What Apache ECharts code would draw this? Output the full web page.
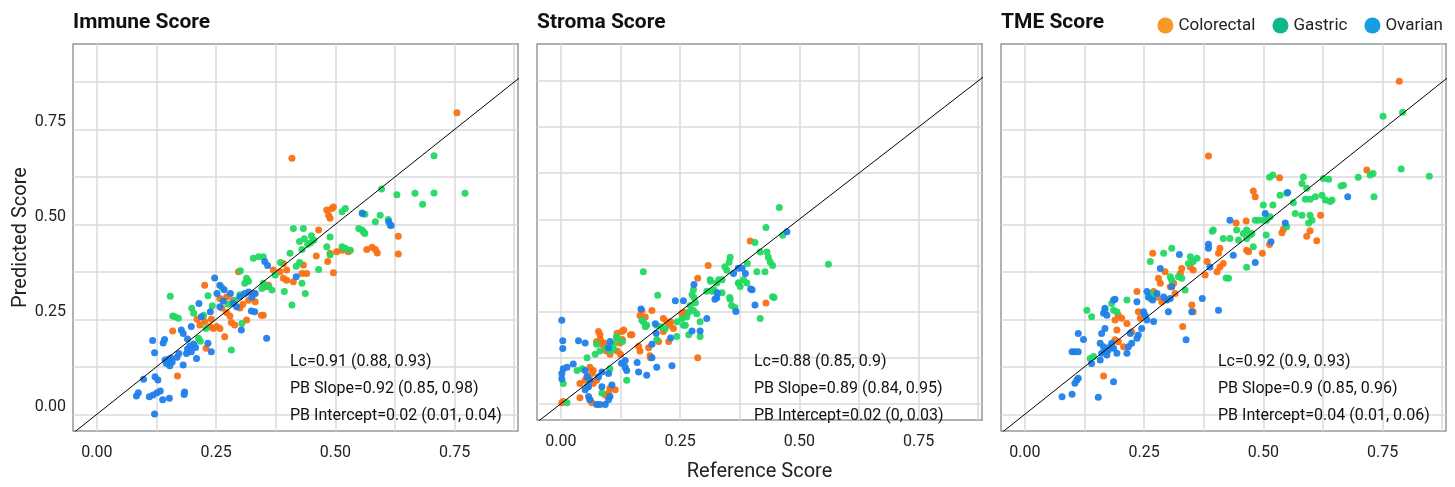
<!DOCTYPE html>
<html>
<head>
<meta charset="utf-8">
<title>Reference vs Predicted Score</title>
<script src="https://cdn.jsdelivr.net/npm/echarts@6/dist/echarts.min.js"></script>
<style>
  html, body { margin: 0; padding: 0; background: #fff; }
  #chart { width: 1455px; height: 487px; }
</style>
</head>
<body>
<div id="chart"></div>
<script>
// categories
const groups = ['Colorectal', 'Gastric', 'Ovarian'];
const panelTitles = ['Immune Score', 'Stroma Score', 'TME Score'];

// ticks
const gridSteps = [0, 0.125, 0.25, 0.375, 0.5, 0.625, 0.75, 0.875];
const tickLabels = [0, 0.25, 0.5, 0.75];

// identity line (reference = predicted)
const identityLine = [[-0.1, -0.1], [1, 1]];

// agreement statistics
const immuneStats = ['Lc=0.91 (0.88, 0.93)', 'PB Slope=0.92 (0.85, 0.98)', 'PB Intercept=0.02 (0.01, 0.04)'];
const stromaStats = ['Lc=0.88 (0.85, 0.9)', 'PB Slope=0.89 (0.84, 0.95)', 'PB Intercept=0.02 (0, 0.03)'];
const tmeStats = ['Lc=0.92 (0.9, 0.93)', 'PB Slope=0.9 (0.85, 0.96)', 'PB Intercept=0.04 (0.01, 0.06)'];

// [reference, predicted]
const immuneColorectal = [
  [0.755,0.794],[0.409,0.674],[0.482,0.538],[0.493,0.542],[0.486,0.524],[0.489,0.516],[0.496,0.546],
  [0.465,0.485],[0.632,0.469],[0.632,0.422],[0.566,0.434],[0.577,0.440],[0.584,0.434],[0.588,0.425],
  [0.514,0.432],[0.503,0.428],[0.527,0.428],[0.531,0.432],[0.496,0.373],[0.484,0.402],[0.460,0.417],
  [0.489,0.424],[0.433,0.393],[0.430,0.371],[0.440,0.371],[0.412,0.349],[0.398,0.380],[0.398,0.353],
  [0.391,0.358],[0.391,0.397],[0.384,0.375],[0.370,0.380],[0.349,0.261],[0.169,0.101],[0.159,0.219],
  [0.226,0.340],[0.229,0.174],[0.216,0.235],[0.226,0.244],[0.237,0.231],[0.244,0.226],[0.251,0.231],
  [0.258,0.226],[0.258,0.305],[0.272,0.309],[0.268,0.204],[0.272,0.268],[0.279,0.259],[0.289,0.235],
  [0.297,0.375],[0.314,0.248],[0.345,0.261],[0.353,0.336],[0.360,0.340],[0.332,0.296],[0.300,0.280],
  [0.306,0.290],[0.318,0.300],[0.330,0.318],[0.240,0.250],[0.262,0.280],[0.285,0.300],[0.210,0.250],
  [0.282,0.242]
];
const immuneGastric = [
  [0.707,0.681],[0.597,0.593],[0.629,0.578],[0.667,0.582],[0.707,0.583],[0.772,0.582],[0.683,0.553],
  [0.594,0.524],[0.562,0.527],[0.556,0.530],[0.584,0.507],[0.611,0.513],[0.615,0.498],[0.521,0.542],
  [0.514,0.533],[0.549,0.489],[0.556,0.485],[0.559,0.480],[0.562,0.476],[0.412,0.489],[0.433,0.489],
  [0.489,0.467],[0.425,0.455],[0.435,0.462],[0.442,0.448],[0.448,0.452],[0.455,0.458],[0.450,0.470],
  [0.482,0.441],[0.514,0.441],[0.521,0.437],[0.531,0.432],[0.489,0.420],[0.430,0.434],[0.405,0.424],
  [0.425,0.400],[0.418,0.390],[0.465,0.381],[0.437,0.318],[0.409,0.288],[0.393,0.323],[0.430,0.345],
  [0.374,0.367],[0.360,0.336],[0.367,0.327],[0.349,0.345],[0.349,0.415],[0.154,0.311],[0.159,0.259],
  [0.164,0.257],[0.171,0.253],[0.199,0.279],[0.203,0.266],[0.213,0.200],[0.217,0.192],[0.233,0.312],
  [0.224,0.261],[0.229,0.226],[0.242,0.286],[0.262,0.334],[0.282,0.169],[0.301,0.378],[0.304,0.239],
  [0.314,0.358],[0.318,0.350],[0.310,0.345],[0.300,0.315],[0.328,0.411],[0.339,0.415],[0.346,0.331],
  [0.385,0.400],[0.290,0.300],[0.275,0.290]
];
const immuneOvarian = [
  [0.083,0.048],[0.087,0.057],[0.098,0.092],[0.110,0.046],[0.118,0.051],[0.126,0.057],[0.133,0.061],
  [0.138,0.038],[0.121,0.001],[0.152,0.042],[0.122,0.099],[0.128,0.090],[0.117,0.194],[0.121,0.162],
  [0.139,0.188],[0.142,0.197],[0.143,0.143],[0.146,0.134],[0.150,0.145],[0.153,0.128],[0.158,0.138],
  [0.155,0.148],[0.177,0.222],[0.181,0.213],[0.181,0.130],[0.184,0.059],[0.183,0.052],[0.190,0.172],
  [0.195,0.180],[0.198,0.165],[0.203,0.185],[0.207,0.176],[0.188,0.160],[0.198,0.231],[0.209,0.147],
  [0.214,0.292],[0.219,0.257],[0.233,0.187],[0.240,0.165],[0.247,0.359],[0.252,0.318],[0.258,0.340],
  [0.258,0.283],[0.267,0.328],[0.280,0.318],[0.286,0.292],[0.293,0.283],[0.303,0.222],[0.300,0.310],
  [0.310,0.318],[0.318,0.322],[0.325,0.308],[0.332,0.318],[0.331,0.270],[0.324,0.272],[0.356,0.200],
  [0.352,0.402],[0.358,0.392],[0.418,0.362],[0.557,0.529],[0.612,0.507],[0.617,0.497],[0.238,0.270],
  [0.265,0.298],[0.168,0.150],[0.172,0.160],[0.190,0.198]
];

const stromaColorectal = [
  [0.397,0.441],[0.309,0.375],[0.287,0.340],[0.430,0.273],[0.287,0.125],[0.254,0.244],[0.257,0.235],
  [0.215,0.231],[0.222,0.222],[0.229,0.213],[0.215,0.196],[0.236,0.204],[0.170,0.253],[0.166,0.239],
  [0.177,0.235],[0.191,0.253],[0.149,0.187],[0.128,0.196],[0.117,0.178],[0.124,0.165],[0.079,0.196],
  [0.082,0.187],[0.075,0.169],[0.086,0.161],[0.093,0.147],[0.096,0.143],[0.103,0.134],[0.163,0.156],
  [0.166,0.143],[0.184,0.152],[0.187,0.130],[0.061,0.099],[0.068,0.090],[0.065,0.082],[0.055,0.073],
  [0.051,0.064],[0.040,0.055],[0.075,0.064],[0.068,0.055],[0.103,0.042],[0.114,0.038],[0.100,0.029],
  [0.093,0.024],[0.061,0.011],[0.065,0.003],[0.040,0.016],[0.002,0.003],[0.005,0.006],[0.258,0.248],
  [0.230,0.222],[0.226,0.169],[0.205,0.169],[0.188,0.125],[0.146,0.187],[0.132,0.200],[0.118,0.191],
  [0.129,0.174],[0.101,0.147],[0.118,0.143],[0.125,0.134],[0.083,0.174],[0.090,0.165]
];
const stromaGastric = [
  [0.458,0.532],[0.430,0.478],[0.465,0.457],[0.407,0.437],[0.418,0.411],[0.432,0.411],[0.435,0.397],
  [0.439,0.384],[0.444,0.375],[0.561,0.378],[0.391,0.380],[0.355,0.397],[0.353,0.384],[0.344,0.371],
  [0.348,0.362],[0.338,0.336],[0.327,0.327],[0.411,0.358],[0.428,0.358],[0.383,0.336],[0.390,0.327],
  [0.372,0.327],[0.376,0.318],[0.173,0.358],[0.203,0.294],[0.444,0.290],[0.418,0.231],[0.355,0.283],
  [0.358,0.266],[0.365,0.261],[0.313,0.336],[0.306,0.305],[0.317,0.305],[0.278,0.309],[0.275,0.296],
  [0.282,0.274],[0.271,0.266],[0.278,0.253],[0.285,0.244],[0.292,0.222],[0.292,0.182],[0.268,0.187],
  [0.243,0.182],[0.264,0.235],[0.257,0.213],[0.173,0.222],[0.177,0.209],[0.170,0.226],[0.180,0.213],
  [0.201,0.213],[0.201,0.174],[0.096,0.152],[0.103,0.143],[0.110,0.147],[0.117,0.182],[0.075,0.161],
  [0.082,0.143],[0.072,0.134],[0.138,0.064],[0.055,0.125],[0.034,0.090],[0.103,0.095],[0.005,0.055],
  [0.013,0.003],[0.055,0.046],[0.086,0.029],[0.118,0.178],[0.129,0.169],[0.111,0.161],[0.045,0.095],
  [0.209,0.209],[0.219,0.204],[0.244,0.222],[0.254,0.231],[0.261,0.213],[0.268,0.248],[0.279,0.288],
  [0.314,0.332],[0.331,0.336],[0.321,0.309],[0.338,0.301],[0.354,0.288],[0.447,0.288],[0.373,0.327]
];
const stromaOvarian = [
  [0.474,0.466],[0.372,0.367],[0.362,0.353],[0.398,0.311],[0.407,0.268],[0.367,0.250],[0.323,0.283],
  [0.306,0.231],[0.275,0.197],[0.292,0.197],[0.257,0.279],[0.240,0.279],[0.200,0.191],[0.191,0.161],
  [0.168,0.257],[0.191,0.125],[0.201,0.099],[0.233,0.103],[0.163,0.086],[0.180,0.077],[0.135,0.099],
  [0.138,0.090],[0.135,0.117],[0.103,0.169],[0.100,0.152],[0.002,0.226],[0.004,0.171],[0.004,0.150],
  [0.037,0.171],[0.051,0.165],[0.026,0.108],[0.013,0.099],[0.005,0.095],[0.002,0.082],[0.002,0.068],
  [0.058,0.046],[0.051,0.038],[0.058,0.020],[0.061,0.011],[0.075,-0.002],[0.082,-0.002],[0.093,-0.002],
  [0.100,0.011],[0.103,0.020],[0.086,0.046],[0.107,0.051],[0.079,0.073],[0.086,0.086],[0.100,0.082],
  [0.055,0.073],[0.061,0.064],[0.051,0.090],[0.279,0.323],[0.380,0.367],[0.387,0.353],[0.401,0.309],
  [0.328,0.301],[0.327,0.287],[0.230,0.178],[0.160,0.112],[0.198,0.217],[0.127,0.110]
];

const tmeColorectal = [
  [0.785,0.877],[0.385,0.680],[0.717,0.643],[0.534,0.623],[0.479,0.588],[0.483,0.573],[0.620,0.524],
  [0.598,0.483],[0.591,0.469],[0.612,0.457],[0.542,0.487],[0.539,0.478],[0.513,0.447],[0.498,0.424],
  [0.464,0.509],[0.443,0.504],[0.465,0.432],[0.469,0.428],[0.409,0.437],[0.406,0.424],[0.416,0.397],
  [0.409,0.388],[0.403,0.375],[0.382,0.402],[0.378,0.367],[0.353,0.380],[0.347,0.388],[0.329,0.384],
  [0.326,0.371],[0.312,0.345],[0.305,0.336],[0.315,0.318],[0.294,0.375],[0.268,0.424],[0.280,0.358],
  [0.284,0.345],[0.270,0.323],[0.277,0.309],[0.287,0.296],[0.235,0.323],[0.238,0.270],[0.242,0.253],
  [0.196,0.261],[0.203,0.253],[0.189,0.248],[0.214,0.239],[0.224,0.217],[0.193,0.222],[0.189,0.196],
  [0.196,0.191],[0.207,0.178],[0.331,0.231],[0.353,0.270],[0.350,0.288],[0.165,0.101]
];
const tmeGastric = [
  [0.751,0.785],[0.792,0.795],[0.789,0.646],[0.848,0.627],[0.699,0.624],[0.724,0.630],[0.730,0.634],
  [0.732,0.573],[0.663,0.601],[0.668,0.603],[0.626,0.621],[0.637,0.619],[0.584,0.625],[0.513,0.624],
  [0.520,0.630],[0.535,0.577],[0.549,0.582],[0.581,0.608],[0.591,0.595],[0.588,0.566],[0.598,0.566],
  [0.609,0.573],[0.623,0.577],[0.630,0.564],[0.640,0.560],[0.644,0.564],[0.563,0.557],[0.567,0.529],
  [0.581,0.524],[0.598,0.524],[0.602,0.511],[0.595,0.504],[0.500,0.551],[0.520,0.551],[0.500,0.511],
  [0.507,0.511],[0.490,0.511],[0.483,0.511],[0.514,0.520],[0.549,0.494],[0.506,0.472],[0.465,0.485],
  [0.458,0.476],[0.472,0.472],[0.465,0.463],[0.476,0.476],[0.479,0.441],[0.444,0.485],[0.448,0.459],
  [0.430,0.463],[0.416,0.463],[0.393,0.482],[0.395,0.485],[0.422,0.359],[0.427,0.358],[0.465,0.387],
  [0.347,0.415],[0.353,0.402],[0.361,0.411],[0.343,0.397],[0.308,0.437],[0.291,0.424],[0.263,0.402],
  [0.305,0.362],[0.308,0.353],[0.322,0.362],[0.329,0.358],[0.336,0.327],[0.270,0.309],[0.266,0.318],
  [0.263,0.305],[0.214,0.301],[0.182,0.292],[0.168,0.274],[0.186,0.274],[0.193,0.270],[0.130,0.274],
  [0.140,0.257],[0.137,0.147],[0.144,0.152]
];
const tmeOvarian = [
  [0.677,0.573],[0.551,0.584],[0.504,0.529],[0.546,0.504],[0.516,0.454],[0.483,0.400],[0.430,0.511],
  [0.437,0.419],[0.385,0.448],[0.385,0.437],[0.388,0.388],[0.406,0.274],[0.372,0.305],[0.338,0.196],
  [0.350,0.270],[0.324,0.421],[0.284,0.384],[0.277,0.318],[0.291,0.309],[0.298,0.301],[0.305,0.305],
  [0.308,0.336],[0.301,0.270],[0.256,0.323],[0.259,0.309],[0.268,0.301],[0.235,0.296],[0.249,0.270],
  [0.252,0.261],[0.256,0.248],[0.270,0.244],[0.245,0.226],[0.238,0.209],[0.235,0.200],[0.224,0.187],
  [0.217,0.178],[0.214,0.161],[0.186,0.301],[0.189,0.303],[0.168,0.279],[0.165,0.266],[0.172,0.261],
  [0.168,0.226],[0.161,0.213],[0.158,0.187],[0.165,0.178],[0.168,0.165],[0.175,0.169],[0.179,0.178],
  [0.182,0.187],[0.161,0.161],[0.158,0.143],[0.172,0.156],[0.186,0.174],[0.193,0.161],[0.140,0.134],
  [0.112,0.213],[0.123,0.197],[0.099,0.165],[0.105,0.165],[0.112,0.165],[0.109,0.090],[0.105,0.082],
  [0.112,0.095],[0.078,0.046],[0.099,0.053],[0.154,0.045],[0.186,0.086],[0.221,0.213]
];

const panelData = [
  [immuneColorectal, immuneGastric, immuneOvarian],
  [stromaColorectal, stromaGastric, stromaOvarian],
  [tmeColorectal, tmeGastric, tmeOvarian]
];
const panelStats = [immuneStats, stromaStats, tmeStats];

const pointColors = ['#fa7014', '#22d862', '#1f80ea'];
const legendColors = ['#f7931e', '#00b386', '#0a9ade'];

const dom = document.getElementById('chart');
const myChart = echarts.init(dom, null, { renderer: 'canvas' });

const font = 'Roboto';
const gridLefts = [73, 537, 1001];
const gridTop = 44, gridW = 445, gridH = 387;

const grids = [], xAxes = [], yAxes = [], series = [], titles = [], texts = [];

gridLefts.forEach(function (left, p) {
  grids.push({
    left: left, top: gridTop, width: gridW, height: gridH,
    show: true, backgroundColor: '#fff',
    borderColor: '#8e99a4', borderWidth: 1.5
  });
  xAxes.push({
    gridIndex: p, type: 'value', min: -0.05, max: 0.883,
    name: p === 1 ? 'Reference Score' : '',
    nameLocation: 'middle', nameGap: 42,
    nameTextStyle: { fontFamily: font, fontSize: 20, color: '#222' },
    axisLine: { show: false },
    axisTick: { show: false, customValues: gridSteps },
    axisLabel: {
      customValues: tickLabels, margin: 14,
      fontFamily: font, fontSize: 16, color: '#222',
      formatter: function (v) { return v.toFixed(2); }
    },
    splitLine: { show: true, lineStyle: { color: '#dadada', width: 1.5 } }
  });
  yAxes.push({
    gridIndex: p, type: 'value', min: -0.044, max: 0.975,
    name: p === 0 ? 'Predicted Score' : '',
    nameLocation: 'middle', nameGap: 37,
    nameTextStyle: { fontFamily: font, fontSize: 20, color: '#222' },
    axisLine: { show: false },
    axisTick: { show: false, customValues: gridSteps },
    axisLabel: {
      show: p === 0, customValues: tickLabels, margin: 7,
      fontFamily: font, fontSize: 16, color: '#222',
      verticalAlign: 'bottom', lineHeight: 14,
      formatter: function (v) { return v.toFixed(2); }
    },
    splitLine: { show: true, lineStyle: { color: '#dadada', width: 1.5 } }
  });

  groups.forEach(function (g, i) {
    series.push({
      name: g, type: 'scatter', xAxisIndex: p, yAxisIndex: p,
      data: panelData[p][i], symbolSize: 7,
      itemStyle: { color: pointColors[i], opacity: 0.95 },
      z: 2
    });
  });
  series.push({
    type: 'line', xAxisIndex: p, yAxisIndex: p,
    data: identityLine, symbol: 'none', clip: true, silent: true,
    lineStyle: { color: '#000', width: 1 }, z: 3
  });

  titles.push({
    text: panelTitles[p], left: left, top: 12, padding: 0,
    textStyle: { fontFamily: font, fontSize: 21, fontWeight: 'bold', color: '#111' }
  });
  texts.push({
    type: 'text', left: left + 217, top: 348, z: 10,
    style: {
      text: panelStats[p].join('\n'), fill: '#111',
      font: '16px Roboto', lineHeight: 27
    }
  });
});

const option = {
  backgroundColor: '#fff',
  animation: false,
  title: titles,
  legend: {
    right: 7, top: 12, icon: 'circle', itemWidth: 16, itemHeight: 16, itemGap: 17,
    textStyle: { fontFamily: font, fontSize: 17, color: '#222' },
    data: groups.map(function (g, i) { return { name: g, itemStyle: { color: legendColors[i] } }; })
  },
  grid: grids,
  xAxis: xAxes,
  yAxis: yAxes,
  series: series,
  graphic: texts
};

if (option && typeof option === 'object') {
  myChart.setOption(option);
}
</script>
</body>
</html>
